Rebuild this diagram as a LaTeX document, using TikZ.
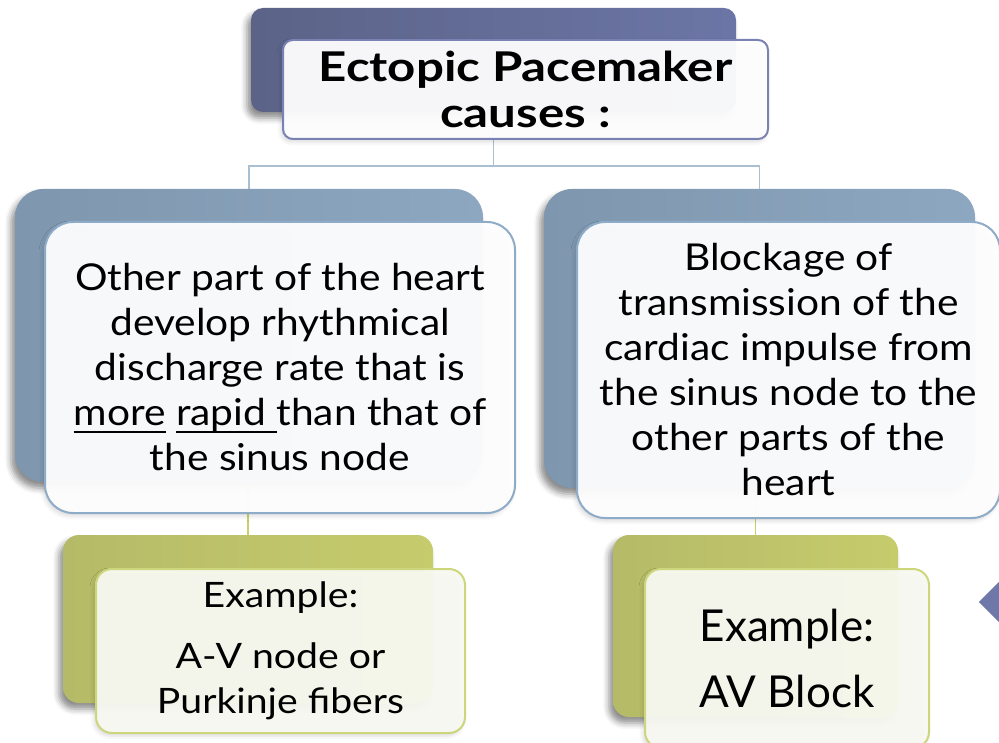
\documentclass[tikz,border=0pt]{standalone}
\usepackage{fontspec}
\setmainfont{Lato}
\newfontfamily\titlefont[FakeStretch=1.2]{Lato}
\newfontfamily\bodyfont[FakeStretch=1.1]{Lato}
\newfontfamily\exfont[FakeStretch=1.12]{Lato}
\usetikzlibrary{shadows.blur,backgrounds}

% underline drawn as a thick bar at a fixed depth
\newsavebox\ulbox
\newcommand\ulbar[1]{\sbox\ulbox{#1}\rlap{\rule[-7pt]{\wd\ulbox}{2.4pt}}\usebox\ulbox}

\definecolor{topBackL}{HTML}{5B6387}
\definecolor{topBackM}{HTML}{6670A0}
\definecolor{topBackR}{HTML}{6C76A6}
\definecolor{topEdge}{HTML}{7A82B4}
\definecolor{midBackL}{HTML}{7E97AE}
\definecolor{midBackM}{HTML}{97B1CB}
\definecolor{midBackR}{HTML}{8EA7C1}
\definecolor{midEdge}{HTML}{8EABC8}
\definecolor{midLink}{HTML}{A9C0D3}
\definecolor{botBackL}{HTML}{B5BA68}
\definecolor{botBackM}{HTML}{D6DC6E}
\definecolor{botBackR}{HTML}{C6CC6C}
\definecolor{botEdge}{HTML}{CDD67C}
\definecolor{botLink}{HTML}{C9D16A}
\definecolor{botFill}{HTML}{F9FAF2}
\definecolor{arrowTip}{HTML}{6F79A9}

\begin{document}
\begin{tikzpicture}[x=1pt,y=-1pt,
  backbox/.style={rectangle, inner sep=0pt, draw=none,
    blur shadow={shadow xshift=-4pt, shadow yshift=-6pt,
      shadow blur radius=6pt, shadow opacity=45}},
  frontbox/.style={rectangle, inner sep=0pt, line width=2pt,
    fill=white, fill opacity=0.95, text opacity=1, align=center,
    blur shadow={shadow xshift=-2pt, shadow yshift=-3pt,
      shadow blur radius=4pt, shadow opacity=15}},
  topback/.style={backbox, rounded corners=12pt,
    left color=topBackL, middle color=topBackM, right color=topBackR},
  midback/.style={backbox, rounded corners=28pt,
    left color=midBackL, middle color=midBackM, right color=midBackR},
  botback/.style={backbox, rounded corners=16pt,
    left color=botBackL, middle color=botBackM, right color=botBackR},
  bodytext/.style={font=\bodyfont\fontsize{37}{45}\selectfont},
  link/.style={line width=1.8pt}
]
\useasboundingbox (0,0) rectangle (999,743);

% top: heading
\node[topback, minimum width=485pt, minimum height=104pt] (topB) at (493.5,60) {};
\node[frontbox, draw=topEdge, rounded corners=10pt,
      minimum width=485pt, minimum height=99pt,
      font=\titlefont\bfseries\fontsize{41}{46}\selectfont] (topF) at (525.5,89.5)
  {Ectopic Pacemaker\\causes :};

% middle row: the two causes
\node[midback, minimum width=468pt, minimum height=293pt] (midLB) at (249,335.5) {};
\node[frontbox, draw=midEdge, rounded corners=28pt,
      minimum width=470pt, minimum height=291pt, bodytext] (midLF) at (280,367.5)
  {Other part of the heart\\develop rhythmical\\discharge rate that is\\
   \ulbar{more} \ulbar{rapid\ }than that of\\the sinus node};

\node[midback, minimum width=431pt, minimum height=299pt] (midRB) at (759.5,338.5) {};
\node[frontbox, draw=midEdge, rounded corners=28pt,
      minimum width=423pt, minimum height=296pt, bodytext] (midRF) at (788.5,370)
  {Blockage of\\transmission of the\\cardiac impulse from\\the sinus node to the\\
   other parts of the\\heart};

% bottom row: examples
\node[botback, minimum width=370pt, minimum height=168pt] (botLB) at (248,619) {};
\node[frontbox, draw=botEdge, fill=botFill, rounded corners=16pt,
      minimum width=369pt, minimum height=164pt,
      font=\exfont\fontsize{35}{45}\selectfont] (botLF) at (280.5,651)
  {Example:\\[16pt]A-V node or\\Purkinje fibers};

\node[botback, minimum width=285pt, minimum height=182pt] (botRB) at (755.5,626) {};
\node[frontbox, draw=botEdge, fill=botFill, rounded corners=16pt,
      minimum width=284pt, minimum height=179pt,
      font=\fontsize{44}{66}\selectfont] (botRF) at (787,658.5)
  {Example:\\AV Block};

% connectors
\coordinate (hub) at (493.5,166);
\begin{scope}[on background layer]
  \draw[link, midLink] (topB.south) -- (hub) -| (midLB.north);
  \draw[link, midLink] (hub) -| (midRB.north);
  \draw[link, botLink] (botLB.north |- midLB.south) -- (botLB.north);
  \draw[link, botLink] (botRB.north |- midRB.south) -- (botRB.north);
\end{scope}

% navigation marker at the right edge
\node[fill=arrowTip, shape=rectangle, rotate=45, minimum size=34pt,
      inner sep=0pt] (marker) at (1003,602) {};
\end{tikzpicture}
\end{document}
